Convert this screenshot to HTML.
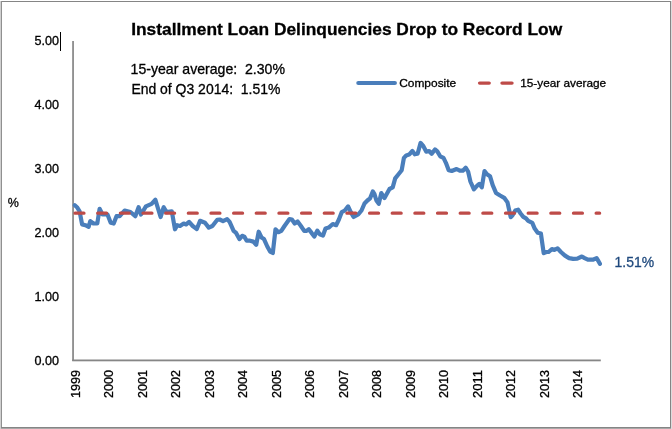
<!DOCTYPE html>
<html><head><meta charset="utf-8"><title>Installment Loan Delinquencies Drop to Record Low</title>
<style>
html,body{margin:0;padding:0;background:#fff;}
body{width:672px;height:429px;overflow:hidden;}
svg{display:block;}
text{font-family:"Liberation Sans",Arial,sans-serif;stroke:#000;stroke-width:0.3px;}
</style></head><body>
<svg width="672" height="429" viewBox="0 0 672 429">
<rect x="0" y="0" width="672" height="429" fill="#fff"/>
<!-- frame -->
<rect x="0" y="1" width="1" height="428" fill="#d0d0d0"/>
<rect x="671" y="1" width="1" height="428" fill="#dcdcdc"/>
<rect x="1" y="428" width="670" height="1" fill="#a8a8a8"/>
<rect x="1" y="1" width="670" height="1" fill="#858585"/>
<rect x="1" y="1" width="1" height="427" fill="#909090"/>
<rect x="670" y="1" width="1" height="427" fill="#858585"/>
<rect x="1" y="427" width="670" height="1" fill="#858585"/>
<!-- axes -->
<rect x="72.2" y="41" width="1.7" height="320" fill="#868686"/>
<rect x="72.2" y="359.5" width="528.6" height="1.8" fill="#868686"/>
<!-- text cursor -->
<rect x="60" y="32" width="1" height="19" fill="#000"/>
<!-- series -->
<polyline points="74.8,205.2 77.0,207.2 79.6,211.3 82.1,224.4 85.4,225.2 88.6,226.8 90.3,221.1 93.5,223.5 97.3,223.5 99.6,208.8 102.5,214.5 107.5,214.5 110.7,222.7 113.7,223.5 116.5,216.2 119.7,216.2 124.6,210.5 130.4,212.0 135.3,216.2 138.6,207.2 141.0,214.5 145.9,206.4 151.6,203.9 155.4,199.8 160.6,217.0 163.7,207.2 166.5,212.1 171.8,211.3 175.0,229.3 177.2,225.2 180.0,226.0 183.7,223.5 186.2,224.4 189.1,221.9 192.7,226.0 196.8,229.0 200.1,220.8 205.0,222.7 208.8,227.6 212.4,226.0 217.3,219.8 219.7,219.5 223.0,221.1 227.1,219.1 229.6,221.9 233.6,230.9 236.1,232.9 239.4,239.1 242.2,235.8 244.3,236.6 246.7,240.7 250.0,240.7 253.3,241.6 256.2,244.8 258.7,231.7 261.5,237.5 264.0,239.1 267.3,246.5 270.1,251.6 272.8,253.0 275.5,229.3 278.3,232.2 281.3,230.9 284.5,226.0 289.5,219.1 291.9,219.5 294.7,223.5 297.6,221.4 300.9,226.0 304.2,230.9 306.6,230.9 308.8,229.3 311.6,232.9 314.3,236.6 317.3,230.6 319.7,234.2 323.0,235.5 325.5,228.5 328.7,227.6 332.8,224.0 336.1,225.2 338.9,219.5 341.8,212.1 344.8,210.5 348.1,206.4 350.8,212.1 353.6,217.0 358.2,214.5 361.5,210.5 364.5,203.5 367.4,200.5 370.1,198.3 372.8,191.5 374.4,193.9 376.4,200.5 378.8,203.7 381.3,193.1 384.5,198.0 389.5,189.0 392.7,187.4 395.2,178.4 398.5,174.3 401.7,170.2 403.9,157.9 406.2,155.5 409.1,154.6 412.4,151.0 414.8,154.3 417.6,153.8 420.6,142.9 423.0,145.6 426.3,151.7 429.1,151.0 431.7,153.8 435.0,149.4 437.3,151.4 440.2,156.3 443.5,157.9 445.9,162.8 448.7,170.2 451.7,171.0 456.6,169.0 459.8,170.7 462.8,170.7 465.7,167.7 468.1,171.5 470.4,181.5 473.9,189.3 477.2,185.7 479.3,184.0 481.8,187.3 484.5,171.0 487.0,174.2 490.0,176.2 492.7,185.2 496.0,192.9 500.1,195.5 504.2,197.8 507.5,202.4 510.7,217.1 512.4,215.5 515.3,210.6 518.1,209.7 520.6,213.5 523.3,216.8 526.0,218.3 528.2,220.9 532.3,222.9 534.7,228.6 537.7,232.7 540.9,233.6 543.7,253.2 546.2,252.0 548.6,252.0 551.9,249.1 554.4,249.9 557.6,248.3 560.9,252.0 565.0,255.6 569.1,258.1 573.2,258.9 577.3,258.6 581.9,256.5 584.6,258.1 587.9,259.7 592.8,259.7 596.6,258.1 598.6,261.4 599.9,263.8" fill="none" stroke="#4A7EBB" stroke-width="4.2" stroke-linejoin="round" stroke-linecap="round"/>
<!-- average -->
<line x1="75.05" y1="213.2" x2="599.6" y2="213.2" stroke="#BE4B48" stroke-width="3.3" stroke-dasharray="8.9 13.757" stroke-linecap="round"/>
<!-- legend -->
<line x1="358.3" y1="83" x2="394.9" y2="83" stroke="#4A7EBB" stroke-width="4.1" stroke-linecap="round"/>
<line x1="479.6" y1="83.1" x2="489.2" y2="83.1" stroke="#BE4B48" stroke-width="3.4" stroke-linecap="round"/>
<line x1="502" y1="83.1" x2="512" y2="83.1" stroke="#BE4B48" stroke-width="3.4" stroke-linecap="round"/>
<text x="131.2" y="35.2" font-size="17" fill="#000" font-weight="bold" textLength="431" lengthAdjust="spacingAndGlyphs" >Installment Loan Delinquencies Drop to Record Low</text>
<text x="130.6" y="74" font-size="14.3" fill="#000" textLength="154.4" lengthAdjust="spacingAndGlyphs" xml:space="preserve">15-year average:  2.30%</text>
<text x="131.4" y="94" font-size="14.3" fill="#000" textLength="149" lengthAdjust="spacingAndGlyphs" xml:space="preserve">End of Q3 2014:  1.51%</text>
<text x="399.2" y="86.8" font-size="11.6" fill="#000" textLength="57" lengthAdjust="spacingAndGlyphs" >Composite</text>
<text x="520.2" y="86.8" font-size="11.6" fill="#000" textLength="86" lengthAdjust="spacingAndGlyphs" >15-year average</text>
<text x="34.4" y="44.8" font-size="12" fill="#000" textLength="24.5" lengthAdjust="spacingAndGlyphs" >5.00</text>
<text x="34.4" y="108.8" font-size="12" fill="#000" textLength="24.5" lengthAdjust="spacingAndGlyphs" >4.00</text>
<text x="34.4" y="172.8" font-size="12" fill="#000" textLength="24.5" lengthAdjust="spacingAndGlyphs" >3.00</text>
<text x="34.4" y="236.8" font-size="12" fill="#000" textLength="24.5" lengthAdjust="spacingAndGlyphs" >2.00</text>
<text x="34.4" y="300.8" font-size="12" fill="#000" textLength="24.5" lengthAdjust="spacingAndGlyphs" >1.00</text>
<text x="34.4" y="364.8" font-size="12" fill="#000" textLength="24.5" lengthAdjust="spacingAndGlyphs" >0.00</text>
<text x="7.8" y="206.5" font-size="13.6" fill="#000" textLength="11.1" lengthAdjust="spacingAndGlyphs" >%</text>
<text x="614.6" y="266.6" font-size="14" fill="#1F497D" textLength="39.5" lengthAdjust="spacingAndGlyphs" style="stroke:#1F497D">1.51%</text>
<text transform="translate(80.00,398) rotate(-90)" font-size="12.6" textLength="27.9" lengthAdjust="spacingAndGlyphs">1999</text>
<text transform="translate(113.49,398) rotate(-90)" font-size="12.6" textLength="27.9" lengthAdjust="spacingAndGlyphs">2000</text>
<text transform="translate(146.98,398) rotate(-90)" font-size="12.6" textLength="27.9" lengthAdjust="spacingAndGlyphs">2001</text>
<text transform="translate(180.47,398) rotate(-90)" font-size="12.6" textLength="27.9" lengthAdjust="spacingAndGlyphs">2002</text>
<text transform="translate(213.96,398) rotate(-90)" font-size="12.6" textLength="27.9" lengthAdjust="spacingAndGlyphs">2003</text>
<text transform="translate(247.45,398) rotate(-90)" font-size="12.6" textLength="27.9" lengthAdjust="spacingAndGlyphs">2004</text>
<text transform="translate(280.94,398) rotate(-90)" font-size="12.6" textLength="27.9" lengthAdjust="spacingAndGlyphs">2005</text>
<text transform="translate(314.43,398) rotate(-90)" font-size="12.6" textLength="27.9" lengthAdjust="spacingAndGlyphs">2006</text>
<text transform="translate(347.92,398) rotate(-90)" font-size="12.6" textLength="27.9" lengthAdjust="spacingAndGlyphs">2007</text>
<text transform="translate(381.41,398) rotate(-90)" font-size="12.6" textLength="27.9" lengthAdjust="spacingAndGlyphs">2008</text>
<text transform="translate(414.90,398) rotate(-90)" font-size="12.6" textLength="27.9" lengthAdjust="spacingAndGlyphs">2009</text>
<text transform="translate(448.39,398) rotate(-90)" font-size="12.6" textLength="27.9" lengthAdjust="spacingAndGlyphs">2010</text>
<text transform="translate(481.88,398) rotate(-90)" font-size="12.6" textLength="27.9" lengthAdjust="spacingAndGlyphs">2011</text>
<text transform="translate(515.37,398) rotate(-90)" font-size="12.6" textLength="27.9" lengthAdjust="spacingAndGlyphs">2012</text>
<text transform="translate(548.86,398) rotate(-90)" font-size="12.6" textLength="27.9" lengthAdjust="spacingAndGlyphs">2013</text>
<text transform="translate(582.35,398) rotate(-90)" font-size="12.6" textLength="27.9" lengthAdjust="spacingAndGlyphs">2014</text>
</svg>
</body></html>
